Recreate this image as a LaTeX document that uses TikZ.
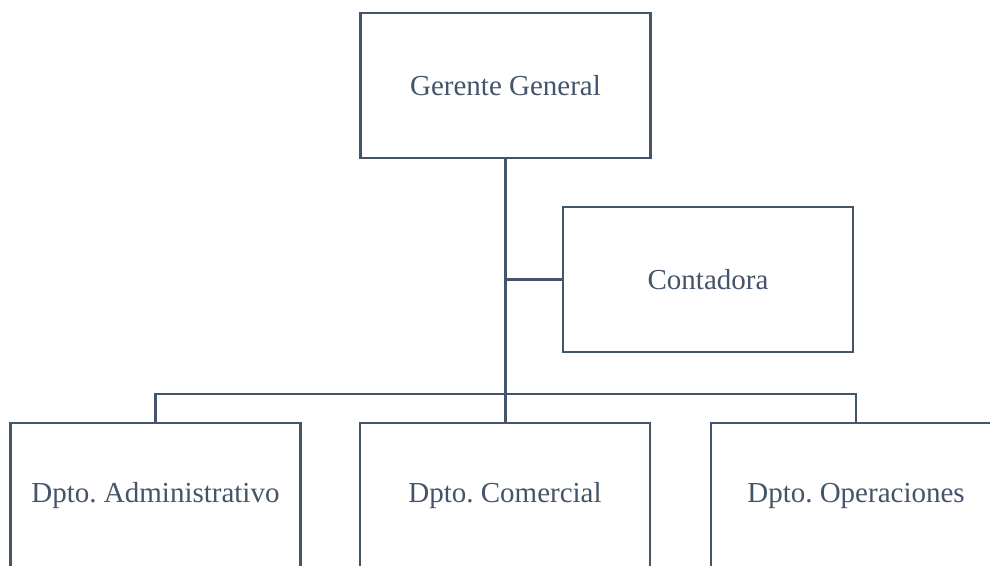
\documentclass[tikz,border=0pt]{standalone}
\usepackage{fontspec}
\setmainfont{Liberation Serif}
\frenchspacing
\definecolor{slate}{HTML}{44546A}
\tikzset{box/.style={rectangle, draw=slate, line width=1.5pt, minimum width=5.8cm, minimum height=2.9cm, inner sep=0pt, text=slate, font=\fontsize{16.5}{20}\selectfont}}

\begin{document}
\begin{tikzpicture}[x=0.02cm, y=-0.02cm, link/.style={draw=slate, line width=1.5pt}]
        \clip (0,0) rectangle (990,565);
        \fill[white] (0,0) rectangle (990,565);
        \node[box] (gerente) at (505.5,85.5) {Gerente General};
        \node[box] (contadora) at (708,279.5) {Contadora};
        \node[box] (admin) at (155.5,495.5) {Dpto. Administrativo};
        \node[box] (comercial) at (505,495.5) {Dpto. Comercial};
        \node[box] (oper) at (856,495.5) {Dpto. Operaciones};
        \coordinate (bus) at (505,394);
        \draw[link] (gerente.south) -- (gerente.south |- comercial.north);
        \draw[link] (contadora.west) -- (contadora.west -| gerente.south);
        \draw[link] (admin.north) |- (bus) -| (oper.north);
      \end{tikzpicture}
\end{document}
